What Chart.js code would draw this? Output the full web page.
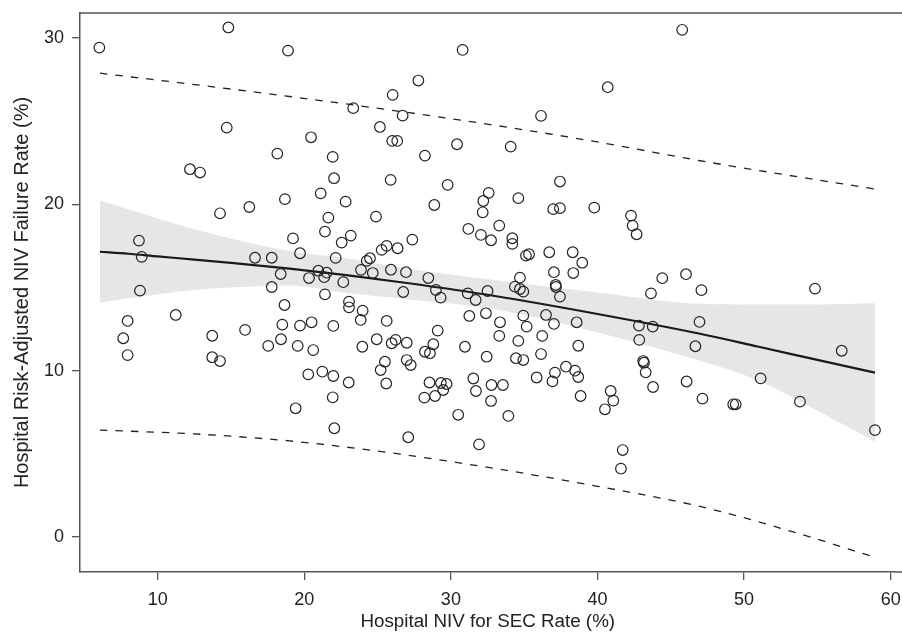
<!DOCTYPE html>
<html><head><meta charset="utf-8">
<script src="https://cdn.jsdelivr.net/npm/chart.js@4.4.1/dist/chart.umd.min.js"></script>
<style>html,body{margin:0;padding:0;background:#fff;overflow:hidden;} #wrap{width:902px;height:640px;position:relative;}</style>
</head><body><div id="wrap"><canvas id="c"></canvas></div>
<script>
const xTicks = [10, 20, 30, 40, 50, 60];
const yTicks = [0, 10, 20, 30];
const xTitle = 'Hospital NIV for SEC Rate (%)';
const yTitle = 'Hospital Risk-Adjusted NIV Failure Rate (%)';

const nivRate = [
 14.82, 6.02, 18.89, 14.71, 18.16, 12.20, 12.89, 30.80, 27.78, 26.03,
 23.34, 26.71, 25.16, 20.46, 26.00, 26.34, 30.42, 21.94, 28.23, 22.03,
 25.89, 29.78, 21.12, 32.58, 45.78, 40.70, 36.15, 34.08, 37.44, 34.60,
 18.68, 16.25, 14.25, 8.72, 8.91, 16.64, 17.78, 19.23, 18.39, 8.79,
 17.78, 18.65, 11.23, 7.95, 18.50, 15.96, 7.65, 13.72, 18.41, 17.54,
 7.95, 13.72, 14.25, 22.82, 28.87, 32.21, 21.64, 24.89, 32.17, 21.41,
 23.17, 22.55, 27.37, 31.19, 32.05, 32.74, 25.62, 25.28, 26.37, 19.71,
 22.14, 24.48, 24.26, 23.87, 24.67, 25.91, 26.94, 20.96, 21.53, 20.32,
 21.36, 22.66, 28.46, 28.98, 29.30, 26.75, 31.15, 31.69, 32.50, 21.41,
 23.05, 23.05, 23.98, 23.85, 25.62, 20.50, 19.71, 21.98, 31.26, 32.39,
 29.10, 24.94, 26.23, 25.96, 26.99, 19.55, 20.61, 23.96, 28.80, 28.23,
 28.57, 30.96, 32.44, 25.50, 26.99, 27.26, 25.21, 20.27, 21.23, 21.98,
 23.03, 25.59, 31.53, 28.54, 29.32, 29.71, 29.48, 28.19, 28.92, 31.71,
 32.77, 32.74, 19.41, 21.94, 30.50, 22.05, 27.09, 31.92, 36.98, 37.44,
 39.78, 42.29, 42.40, 42.67, 33.30, 34.19, 34.19, 35.12, 35.33, 36.71,
 38.31, 38.96, 37.03, 38.35, 34.71, 34.37, 34.71, 34.94, 37.15, 37.17,
 37.44, 44.42, 46.04, 47.09, 43.65, 34.94, 36.49, 33.35, 35.17, 37.03,
 38.58, 42.83, 43.77, 46.96, 33.30, 36.23, 34.60, 42.85, 38.69, 46.68,
 34.44, 34.94, 36.15, 43.12, 43.17, 43.29, 37.85, 38.47, 38.69, 37.10,
 36.93, 35.85, 33.55, 46.08, 43.79, 33.92, 38.85, 40.90, 41.08, 40.51,
 47.16, 41.72, 41.60, 54.84, 56.66, 51.13, 49.26, 49.43, 53.81, 58.93
];
const failRate = [
 30.63, 29.42, 29.24, 24.61, 23.05, 22.11, 21.91, 29.28, 27.44, 26.58,
 25.78, 25.33, 24.65, 24.03, 23.81, 23.81, 23.61, 22.85, 22.93, 21.57,
 21.47, 21.17, 20.66, 20.69, 30.49, 27.04, 25.32, 23.47, 21.37, 20.37,
 20.31, 19.84, 19.46, 17.82, 16.84, 16.79, 16.79, 17.95, 15.81, 14.81,
 15.03, 13.95, 13.35, 12.99, 12.77, 12.45, 11.95, 12.10, 11.89, 11.49,
 10.94, 10.81, 10.58, 20.16, 19.96, 20.20, 19.20, 19.26, 19.52, 18.36,
 18.12, 17.70, 17.88, 18.52, 18.16, 17.84, 17.50, 17.26, 17.36, 17.06,
 16.78, 16.76, 16.60, 16.06, 15.87, 16.07, 15.92, 16.01, 15.89, 15.57,
 15.62, 15.32, 15.57, 14.85, 14.39, 14.73, 14.65, 14.25, 14.79, 14.59,
 14.15, 13.81, 13.61, 13.05, 12.99, 12.91, 12.71, 12.69, 13.29, 13.45,
 12.41, 11.89, 11.85, 11.65, 11.68, 11.49, 11.24, 11.44, 11.59, 11.14,
 11.05, 11.44, 10.84, 10.54, 10.64, 10.34, 10.04, 9.78, 9.94, 9.68,
 9.29, 9.23, 9.53, 9.29, 9.26, 9.20, 8.84, 8.38, 8.48, 8.78,
 9.14, 8.18, 7.74, 8.40, 7.35, 6.54, 6.00, 5.57, 19.71, 19.77,
 19.80, 19.32, 18.72, 18.20, 18.72, 17.96, 17.62, 16.92, 17.00, 17.12,
 17.12, 16.49, 15.92, 15.87, 15.59, 15.05, 14.91, 14.75, 15.15, 15.03,
 14.45, 15.56, 15.80, 14.84, 14.65, 13.31, 13.35, 12.91, 12.65, 12.81,
 12.91, 12.71, 12.65, 12.93, 12.09, 12.09, 11.79, 11.85, 11.50, 11.47,
 10.75, 10.64, 11.00, 10.58, 10.48, 9.90, 10.24, 10.00, 9.62, 9.88,
 9.36, 9.59, 9.14, 9.35, 9.02, 7.28, 8.48, 8.78, 8.20, 7.68,
 8.32, 5.23, 4.11, 14.93, 11.20, 9.54, 7.98, 7.98, 8.14, 6.43
];

const curveX  = [6.06, 8, 10, 12.5, 15, 19, 23, 27, 33, 40, 47, 51, 55, 58.93];
const fitLine = [17.15, 17.03, 16.87, 16.68, 16.48, 16.13, 15.73, 15.27, 14.49, 13.41, 12.22, 11.44, 10.65, 9.88];
const ciUpper = [20.22, 19.7, 19.15, 18.5, 17.95, 17.2, 16.75, 16.15, 15.45, 14.7, 14.02, 13.98, 13.98, 14.05];
const ciLower = [14.09, 14.35, 14.6, 14.85, 15.0, 15.12, 14.65, 14.3, 13.7, 12.3, 10.6, 9.4, 7.6, 5.73];
const piX     = [6.06, 12.5, 19, 26, 33, 40, 47, 53, 58.93];
const piUpper = [27.88, 27.2, 26.48, 25.65, 24.75, 23.75, 22.62, 21.75, 20.92];
const piLower = [6.43, 6.2, 5.78, 5.05, 4.12, 3.05, 1.84, 0.4, -1.22];

const pairs = (xs, ys) => xs.map((x, i) => ({x: x, y: ys[i]}));
const FONT = "'Liberation Sans', Arial, Helvetica, sans-serif";
const INK = '#222';
const AXIS = '#555';

// top frame line and x-axis line run on to the right edge of the picture
const frame = {
  id: 'frame',
  afterDraw(chart) {
    const {ctx, chartArea: a} = chart;
    ctx.save();
    ctx.strokeStyle = AXIS;
    ctx.lineWidth = 1.5;
    ctx.beginPath();
    ctx.moveTo(a.left, a.top);
    ctx.lineTo(chart.width, a.top);
    ctx.moveTo(a.right, a.bottom);
    ctx.lineTo(chart.width, a.bottom);
    ctx.stroke();
    ctx.restore();
  }
};

const lineBase = {type: 'line', pointRadius: 0, cubicInterpolationMode: 'monotone', fill: false};

new Chart(document.getElementById('c'), {
  type: 'scatter',
  data: {
    datasets: [
      Object.assign({}, lineBase, {data: pairs(curveX, ciUpper), borderWidth: 0, borderColor: 'rgba(0,0,0,0)', backgroundColor: '#e5e6e6', fill: '+1', order: 10}),
      Object.assign({}, lineBase, {data: pairs(curveX, ciLower), borderWidth: 0, borderColor: 'rgba(0,0,0,0)', order: 9}),
      {type: 'scatter', data: pairs(nivRate, failRate), pointRadius: 5.3, pointBorderWidth: 1.2, pointBorderColor: INK, pointBackgroundColor: 'rgba(0,0,0,0)', order: 1},
      Object.assign({}, lineBase, {data: pairs(curveX, fitLine), borderColor: '#1a1a1a', borderWidth: 2.2, order: 2}),
      Object.assign({}, lineBase, {data: pairs(piX, piUpper), borderColor: INK, borderWidth: 1.3, borderDash: [7.5, 8], order: 3}),
      Object.assign({}, lineBase, {data: pairs(piX, piLower), borderColor: INK, borderWidth: 1.3, borderDash: [7.5, 8], order: 3})
    ]
  },
  options: {
    responsive: true,
    maintainAspectRatio: false,
    animation: false,
    events: [],
    layout: {padding: {top: 13, right: 0, left: 0, bottom: 0}},
    plugins: {legend: {display: false}, tooltip: {enabled: false}},
    scales: {
      x: {
        type: 'linear', min: 4.7, max: 60.33,
        afterBuildTicks: s => { s.ticks = xTicks.map(v => ({value: v})); },
        afterFit: s => { s.height = 68; s.paddingLeft = 0; s.paddingRight = 0; },
        ticks: {font: {family: FONT, size: 18}, color: INK, padding: 9, maxRotation: 0, autoSkip: false},
        grid: {drawOnChartArea: false, drawTicks: true, tickLength: 8, color: AXIS, lineWidth: 1.3},
        border: {color: AXIS, width: 1.5},
        title: {display: true, text: xTitle, font: {family: FONT, size: 18.8}, color: INK, padding: {top: 0, bottom: 7}}
      },
      y: {
        type: 'linear', min: -2.1, max: 31.5,
        afterBuildTicks: s => { s.ticks = yTicks.map(v => ({value: v})); },
        afterFit: s => { s.width = 80; s.paddingTop = 0; s.paddingBottom = 0; },
        ticks: {font: {family: FONT, size: 18}, color: INK, padding: 8},
        grid: {drawOnChartArea: false, drawTicks: true, tickLength: 8, color: AXIS, lineWidth: 1.3},
        border: {color: AXIS, width: 1.5},
        title: {display: true, text: yTitle, font: {family: FONT, size: 20}, color: INK, padding: {top: 10, bottom: 0}}
      }
    }
  },
  plugins: [frame]
});
</script>
</body></html>
